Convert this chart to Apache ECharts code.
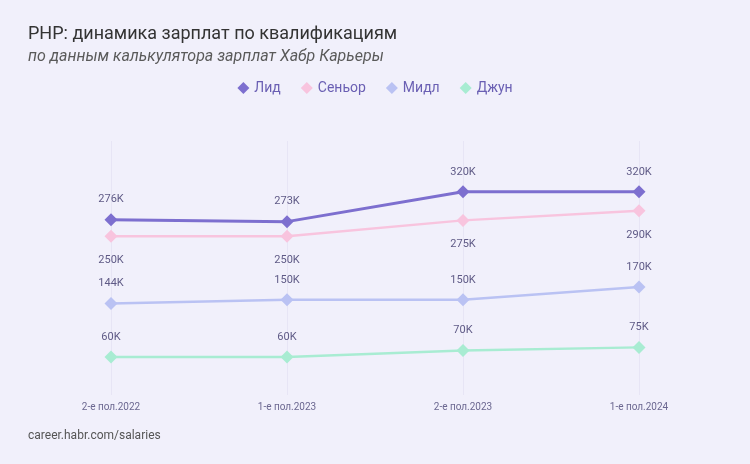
<!DOCTYPE html>
<html>
<head>
<meta charset="utf-8">
<script src="https://cdn.jsdelivr.net/npm/echarts@6/dist/echarts.min.js"></script>
<style>
  html, body { margin: 0; padding: 0; background: #f1f0fb; }
  #chart { width: 750px; height: 464px; }
</style>
</head>
<body>
<div id="chart"></div>
<script>
const categories = ['2-е пол.2022', '1-е пол.2023', '2-е пол.2023', '1-е пол.2024']
const lead = [276, 273, 320, 320]
const senior = [250, 250, 275, 290]
const middle = [144, 150, 150, 170]
const junior = [60, 60, 70, 75]

const colors = ['#7d6fcf', '#f8c4de', '#bac2f3', '#a8ecd2']
const labelColor = '#5f5a86'

const chart = echarts.init(document.getElementById('chart'))

function makeSeries (name, data, color, pos, width) {
  return {
    name: name,
    type: 'line',
    data: data,
    symbol: 'diamond',
    symbolSize: 13,
    lineStyle: { color: color, width: width },
    itemStyle: { color: color },
    label: {
      show: true,
      position: pos,
      distance: pos === 'top' ? 8 : 12,
      color: labelColor,
      fontSize: 11,
      fontFamily: 'Roboto',
      formatter: (p) => p.value + 'K'
    }
  }
}

const option = {
  backgroundColor: '#f1f0fb',
  textStyle: { fontFamily: 'Roboto' },
  title: [
    {
      text: 'PHP: динамика зарплат по квалификациям',
      subtext: 'по данным калькулятора зарплат Хабр Карьеры',
      left: 23,
      top: 20,
      itemGap: 6,
      textStyle: { color: '#333333', fontSize: 18, fontWeight: 'normal', fontFamily: 'Roboto' },
      subtextStyle: { color: '#5a5a5a', fontSize: 16, fontStyle: 'italic', fontFamily: 'Roboto' }
    },
    {
      text: 'career.habr.com/salaries',
      left: 23,
      top: 425,
      textStyle: { color: '#555555', fontSize: 12, fontWeight: 'normal', fontFamily: 'Roboto' }
    }
  ],
  legend: {
    top: 76,
    left: 'center',
    icon: 'diamond',
    itemWidth: 12,
    itemHeight: 12,
    itemGap: 20,
    textStyle: { color: '#6a5fb3', fontSize: 14, fontFamily: 'Roboto' },
    data: ['Лид', 'Сеньор', 'Мидл', 'Джун']
  },
  grid: {
    left: 111,
    right: 111,
    top: 141,
    bottom: 69
  },
  xAxis: {
    type: 'category',
    boundaryGap: false,
    data: categories,
    axisLine: { show: false },
    axisTick: { show: false },
    axisLabel: { color: '#6b6790', fontSize: 10, margin: 7 },
    splitLine: { show: true, lineStyle: { color: '#e7e5f5', width: 1 } }
  },
  yAxis: {
    type: 'value',
    min: 0,
    max: 400,
    show: false,
    splitLine: { show: false }
  },
  series: [
    makeSeries('Лид', lead, colors[0], 'top', 3),
    makeSeries('Сеньор', senior, colors[1], 'bottom', 2.5),
    makeSeries('Мидл', middle, colors[2], 'top', 2.5),
    makeSeries('Джун', junior, colors[3], 'top', 2.5)
  ]
}

chart.setOption(option)
</script>
</body>
</html>
